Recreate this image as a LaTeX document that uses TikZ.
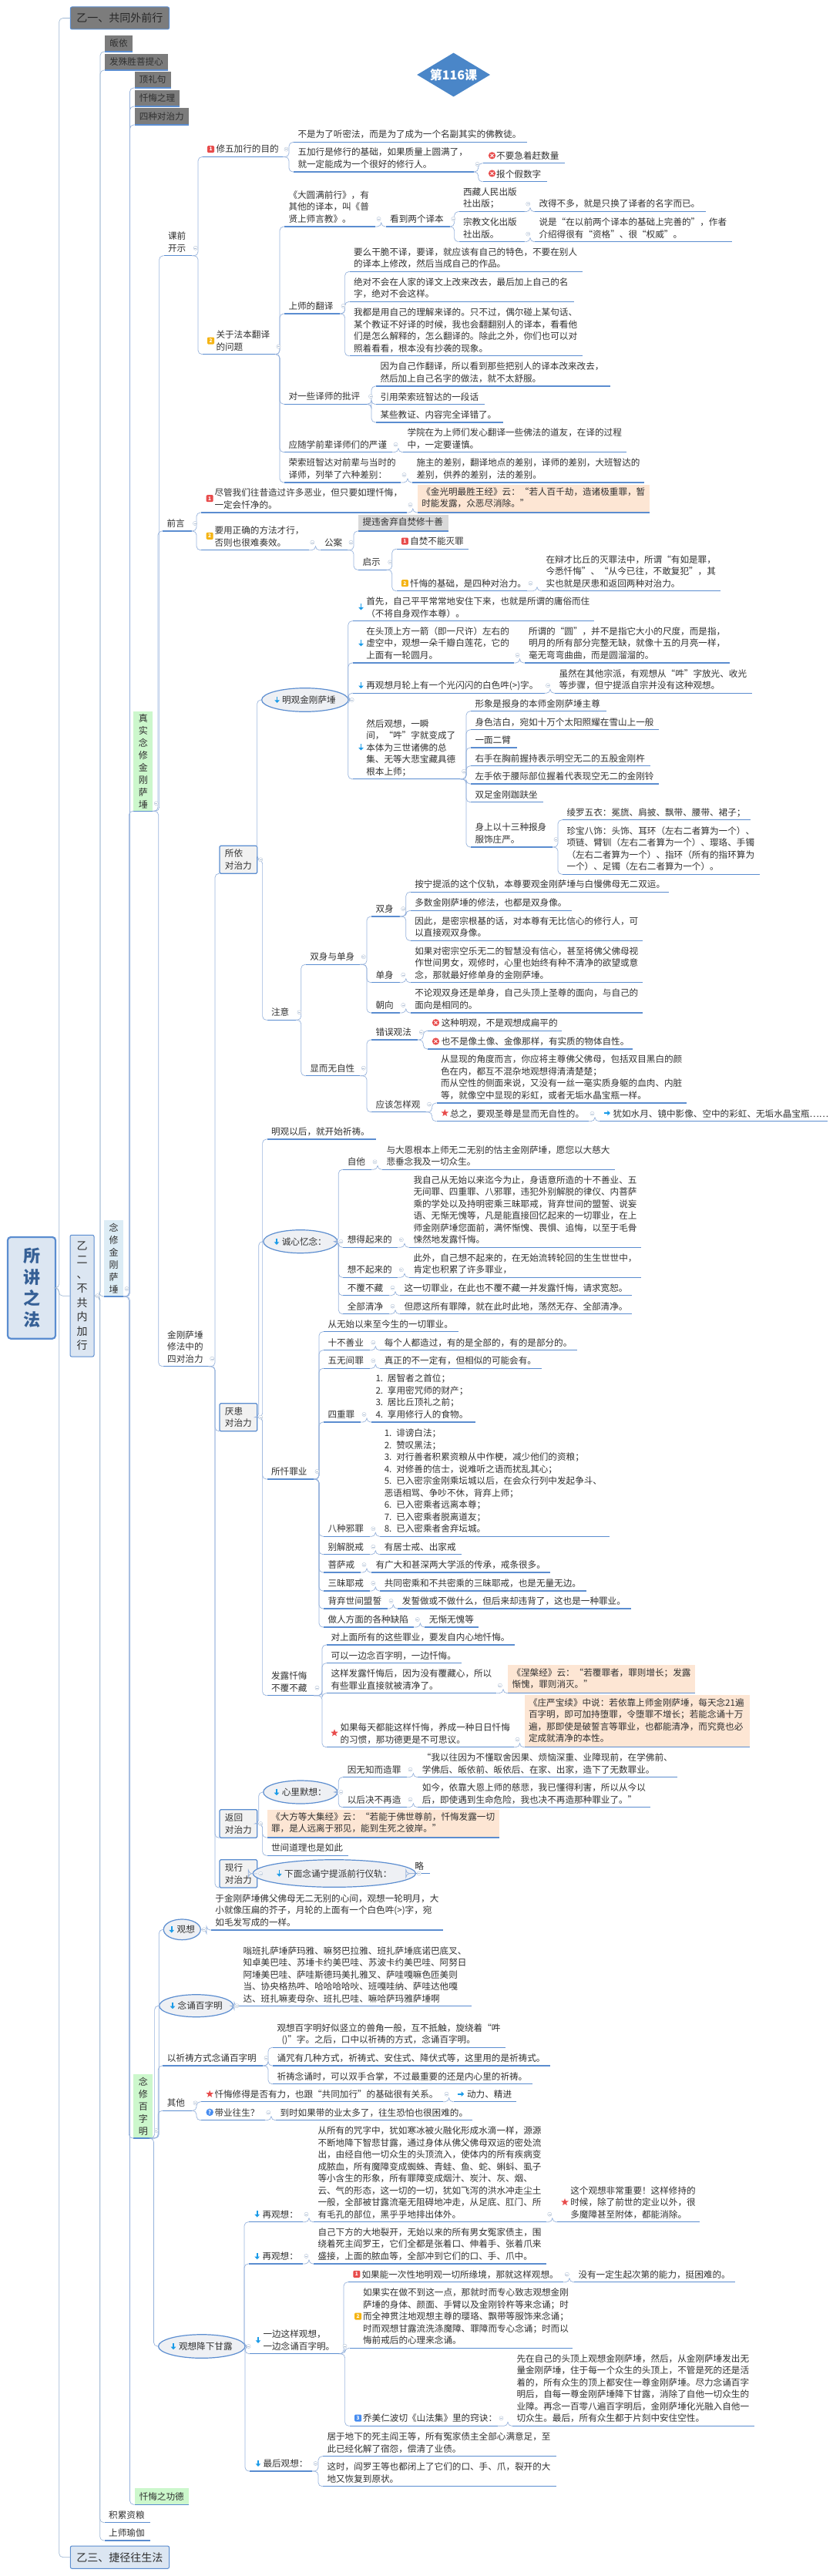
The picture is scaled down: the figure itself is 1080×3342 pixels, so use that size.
\documentclass[tikz,border=0pt]{standalone}
\usepackage{fontspec}
\setmainfont{Noto Sans CJK SC}
\usetikzlibrary{arrows.meta, positioning, shapes.geometric, calc}
\definecolor{mmline}{RGB}{91,141,208}
\definecolor{mmconn}{RGB}{150,178,220}
\definecolor{mmspine}{RGB}{160,184,212}
\definecolor{mmtext}{RGB}{48,48,48}
\definecolor{mmgray}{RGB}{124,124,124}
\definecolor{mmpale}{RGB}{220,230,242}
\definecolor{mmsky}{RGB}{220,236,245}
\definecolor{mmgreen}{RGB}{204,247,204}
\definecolor{mmpeach}{RGB}{253,230,212}
\definecolor{mmsilver}{RGB}{217,217,217}
\definecolor{mmoval}{RGB}{238,240,244}
\definecolor{mmred}{RGB}{232,76,76}
\definecolor{mmyellow}{RGB}{245,180,20}
\definecolor{mmblue}{RGB}{70,140,240}
\definecolor{mmarrow}{RGB}{26,155,232}
\definecolor{mmdiamond}{RGB}{74,134,200}
\definecolor{mmroot}{RGB}{54,96,150}
\newcommand{\bodyfont}{\fontsize{11.6}{15.5}\selectfont}
\tikzset{
  topic/.style={anchor=south west, inner xsep=5.5pt, inner ysep=2.6pt, outer sep=0pt,
    align=left, text=mmtext, font=\bodyfont},
  uline/.style={mmline, line width=1.3pt},
  conn/.style={mmconn, line width=0.7pt, rounded corners=5pt},
  collmark/.style={draw=mmsilver!70!mmline, line width=0.4pt},
  peach/.style={fill=mmpeach},
  silver/.style={fill=mmsilver},
  blockbox/.style={inner sep=0pt, outer sep=0pt, align=left, text=mmtext, font=\bodyfont},
  graybox/.style={blockbox, fill=mmgray},
  titlebox/.style={blockbox, draw=mmline, line width=1pt, rounded corners=2pt,
    font=\fontsize{14}{18.5}\selectfont},
  sidebox/.style={blockbox, fill=mmsilver!35, draw=mmline, line width=1.2pt, rounded corners=1.5pt},
  vbar/.style={blockbox, align=center, font=\fontsize{12}{16}\selectfont},
  oval/.style={ellipse, inner sep=0pt, outer sep=0pt, fill=mmoval, draw=mmline, line width=1.2pt,
    text=mmtext, font=\bodyfont},
  badge/.style={rounded corners=1.2pt, minimum size=9pt, inner sep=0pt, text=white,
    font=\fontsize{6.5}{7}\selectfont\bfseries},
  starmark/.style={star, star points=5, star point ratio=2.4, fill=mmred, inner sep=0pt, minimum size=10pt},
  qmark/.style={circle, fill=mmblue, inner sep=0pt, minimum size=9.5pt, text=white,
    font=\fontsize{7.5}{8}\selectfont\bfseries},
  iconarrow/.style={mmarrow, line width=1.6pt, -{Triangle[length=3.6pt,width=6.4pt]}}
}
\newcommand{\ind}{\hspace*{12pt}}
% underlined topic: name, left, right, line height, text
\newcommand{\topic}[6][]{%
  \pgfmathsetmacro{\tw}{#4-#3-11}%
  \node[topic,text width=\tw pt,#1] (#2) at (#3,#5) {#6\rule[-3pt]{0pt}{8pt}};%
  \draw[uline] (#2.south west) -- (#2.south east);}
% box topic: name, left, right, top, bottom, text
\newcommand{\boxtopic}[7][]{%
  \pgfmathsetmacro{\bcx}{(#3+#4)/2}\pgfmathsetmacro{\bcy}{(#5+#6)/2}%
  \pgfmathsetmacro{\bw}{#4-#3}\pgfmathsetmacro{\bh}{#6-#5}%
  \node[minimum width=\bw pt,minimum height=\bh pt,#1] (#2) at (\bcx,\bcy) {#7};}
\newcommand{\bartopic}[7][]{%
  \boxtopic[#1]{#2}{#3}{#4}{#5}{#6}{#7}%
  \draw[uline] (#2.south west) -- (#2.south east);}
\newcommand{\ovaltopic}[6]{%
  \node[oval,minimum width=#4pt,minimum height=#5pt] (#1) at (#2,#3) {#6};}
% connectors and collapse marks
\newcommand{\coll}[2][10]{%
  \draw[collmark,fill=white] ($(#2)+(4.5pt,#1pt)$) circle (2.6pt);
  \draw[collmark] ($(#2)+(3pt,#1pt)$) -- ++(3pt,0);}
\newcommand{\link}[3][6]{\draw[conn] (#2) -| ($(#3)+(-#1pt,0)$) -- (#3);}
\newcommand{\conn}[2]{\foreach \kid in {#2}{\link{#1.south east}{\kid.south west}}\coll{#1.south east}}
% small icons
\newcommand{\numbadge}[5]{\node[badge,fill=#4] (#1) at (#2,#3) {#5};}
\newcommand{\crossmark}[2]{\fill[mmred] (#1,#2) circle (4.6pt);
  \draw[white,line width=1pt] ($(#1,#2)+(-2pt,-2pt)$) -- ($(#1,#2)+(2pt,2pt)$);
  \draw[white,line width=1pt] ($(#1,#2)+(-2pt,2pt)$) -- ($(#1,#2)+(2pt,-2pt)$);}
\newcommand{\downicon}[2]{\draw[iconarrow] ($(#1,#2)+(0,4.2pt)$) -- ($(#1,#2)+(0,-4.2pt)$);}
\newcommand{\righticon}[2]{\draw[iconarrow] ($(#1,#2)+(-4.2pt,0)$) -- ($(#1,#2)+(4.2pt,0)$);}
\begin{document}
\begin{tikzpicture}[x=1pt,y=-1pt]
\useasboundingbox (0,0) rectangle (1080,3342);

% --- Left columns ---
\boxtopic[blockbox,draw=mmline,fill=mmpale,line width=2.2pt,rounded corners=4pt,align=center,text=mmroot,
  font=\fontsize{22}{27.5}\selectfont\bfseries]{root}{10}{72}{1605}{1736.7}{所\\讲\\之\\法}
\boxtopic[titlebox,fill=mmgray,text=mmtext!80!black]{yi-one}{91.4}{219.5}{9}{38}{乙一、共同外前行}
\boxtopic[titlebox,fill=mmpale,align=center]{yi-two}{91}{122}{1602.3}{1760}{乙\\二\\、\\不\\共\\内\\加\\行}
\boxtopic[titlebox,fill=mmpale]{yi-three}{91.4}{219.5}{3303}{3332.3}{乙三、捷径往生法}
\bartopic[graybox]{refuge}{136}{172}{46}{67}{皈依}
\bartopic[graybox]{bodhi}{136}{218}{70}{91}{发殊胜菩提心}
\bartopic[vbar,fill=mmsky]{vajra}{135}{160}{1582.7}{1682}{念\\修\\金\\刚\\萨\\埵}
\topic{merit}{135.7}{195.3}{3272.7}{积累资粮}
\topic{guru}{135.7}{195.3}{3296}{上师瑜伽}
\bartopic[graybox]{homage}{174.5}{221.6}{93}{114}{顶礼句}
\bartopic[graybox]{reason}{174.5}{233.4}{117}{138}{忏悔之理}
\bartopic[graybox]{fourpow}{174.5}{245}{140}{162}{四种对治力}
\bartopic[vbar,fill=mmgreen]{real}{173.3}{198.3}{922.7}{1052.3}{真\\实\\念\\修\\金\\刚\\萨\\埵}
\bartopic[vbar,fill=mmgreen]{hundred}{173.3}{198.3}{2690.7}{2774}{念\\修\\百\\字\\明}
\bartopic[blockbox,fill=mmgreen]{virtue}{174.5}{245}{3228}{3249.3}{忏悔之功德}
\node[diamond,aspect=1.67,fill=mmdiamond,inner sep=0pt,minimum width=95pt,minimum height=57pt,text=white,
  font=\fontsize{16}{18}\selectfont\bfseries] (lesson) at (588.6,97) {第116课};

% --- Before the talk ---
\topic{talk}{212.6}{249.3}{331.8}{课前\\开示}
\topic{goal}{263}{367}{203.6}{\ind 修五加行的目的}
\numbadge{goal-n}{273.5}{193.6}{mmred}{1}
\topic{goal-a}{381}{683.5}{184.6}{不是为了听密法，而是为了成为一个名副其实的佛教徒。}
\topic{goal-b}{381}{615}{223}{五加行是修行的基础，如果质量上圆满了，\\就一定能成为一个很好的修行人。}
\topic{goal-c}{626.7}{732.7}{211.8}{\ind 不要急着赶数量}
\topic{goal-d}{626.7}{710}{235.7}{\ind 报个假数字}
\crossmark{638.5}{201.8}
\crossmark{638.5}{225}
\topic{trans}{263}{357}{459.6}{\ind 关于法本翻译\\\ind 的问题}
\numbadge{trans-n}{273.5}{442}{mmyellow}{2}
\topic{tr-a}{369}{487}{294}{《大圆满前行》，有\\其他的译本，叫《普\\贤上师言教》。}
\topic{tr-b}{500.7}{583.8}{294}{看到两个译本}
\topic{tr-c}{595.6}{680.7}{274.6}{西藏人民出版\\社出版；}
\topic{tr-d}{694}{915.5}{274.6}{改得不多，就是只换了译者的名字而已。}
\topic{tr-e}{595.6}{680.7}{313.6}{宗教文化出版\\社出版。}
\topic{tr-f}{694}{950}{313.6}{说是“在以前两个译本的基础上完善的”，作者\\介绍得很有“资格”、很“权威”。}
\topic{tr-g}{369}{441}{407}{上师的翻译}
\topic{tr-h}{453.6}{756}{352.5}{要么干脆不译，要译，就应该有自己的特色，不要在别人\\的译本上修改，然后当成自己的作品。}
\topic{tr-i}{453.6}{745}{391.4}{绝对不会在人家的译文上改来改去，最后加上自己的名\\字，绝对不会这样。}
\topic{tr-j}{453.6}{756}{461.8}{我都是用自己的理解来译的。只不过，偶尔碰上某句话、\\某个教证不好译的时候，我也会翻翻别人的译本，看看他\\们是怎么解释的，怎么翻译的。除此之外，你们也可以对\\照着看看，根本没有抄袭的现象。}
\topic{tr-k}{369}{476.5}{524.3}{对一些译师的批评}
\topic{tr-l}{488}{791.5}{501}{因为自己作翻译，所以看到那些把别人的译本改来改去，\\然后加上自己名字的做法，就不太舒服。}
\topic{tr-m}{488}{629}{524.6}{引用荣索班智达的一段话}
\topic{tr-n}{488}{653}{547.9}{某些教证、内容完全译错了。}
\topic{tr-o}{369}{509}{586.7}{应随学前辈译师们的严谨}
\topic{tr-p}{523}{813}{586.7}{学院在为上师们发心翻译一些佛法的道友，在译的过程\\中，一定要谨慎。}
\topic{tr-q}{369}{520}{626}{荣索班智达对前辈与当时的\\译师，列举了六种差别：}
\topic{tr-r}{535}{836}{626}{施主的差别，翻译地点的差别，译师的差别，大班智达的\\差别，供养的差别，法的差别。}

% --- Foreword ---
\topic{fore}{211}{248.5}{689}{前言}
\topic{fore-a}{261}{528}{665}{\ind 尽管我们往昔造过许多恶业，但只要如理忏悔，\\\ind 一定会忏净的。}
\numbadge{fore-a-n}{272.2}{646.7}{mmred}{1}
\topic[peach,minimum height=36.5pt]{fore-b}{541.8}{843}{665}{《金光明最胜王经》云：“若人百千劫，造诸极重罪，暂\\时能发露，众恶尽消除。”}
\topic{fore-c}{261}{400.8}{713.7}{\ind 要用正确的方法才行，\\\ind 否则也很难奏效。}
\numbadge{fore-c-n}{272.2}{695.3}{mmyellow}{2}
\topic{fore-d}{415.5}{451}{713.7}{公案}
\topic[silver,minimum height=21.3pt]{fore-e}{465}{582.4}{689}{提违舍弃自焚修十善}
\topic{fore-f}{465}{501.7}{739.3}{启示}
\topic{fore-g}{514.7}{607.8}{712.3}{\ind 自焚不能灭罪}
\numbadge{fore-g-n}{525.4}{702}{mmred}{1}
\topic{fore-h}{514.7}{684}{766.7}{\ind 忏悔的基础，是四种对治力。}
\numbadge{fore-h-n}{525.4}{756.7}{mmyellow}{2}
\topic{fore-i}{703}{935}{766.7}{在辩才比丘的灭罪法中，所谓“有如是罪，\\今悉忏悔”、“从今已往，不敢复犯”，其\\实也就是厌患和返回两种对治力。}

% --- Four powers ---
\topic{powers}{211.7}{270.7}{1772.7}{金刚萨埵\\修法中的\\四对治力}
\boxtopic[sidebox]{rely}{285}{333.7}{1097.3}{1133.3}{所依\\对治力}
\boxtopic[sidebox]{regret}{285}{333.7}{1820.7}{1856.7}{厌患\\对治力}
\boxtopic[sidebox]{turn}{285}{333.7}{2347.7}{2384.3}{返回\\对治力}
\boxtopic[sidebox]{act}{285}{333.7}{2412.7}{2449}{现行\\对治力}

% --- Relying power ---
\ovaltopic{clear}{395.9}{908}{96.2}{30.6}{\hspace*{10pt}明观金刚萨埵}
\downicon{359.6}{907.7}
\topic{cl-a}{457.8}{770.8}{805.7}{\ind 首先，自己平平常常地安住下来，也就是所谓的庸俗而住\\\ind （不将自身观作本尊）。}
\downicon{468.5}{787.3}
\topic{cl-b}{457.8}{667}{860}{\ind 在头顶上方一箭（即一尺许）左右的\\\ind 虚空中，观想一朵千瓣白莲花，它的\\\ind 上面有一轮圆月。}
\downicon{468.5}{834.3}
\topic{cl-c}{680.5}{947}{860}{所谓的“圆”，并不是指它大小的尺度，而是指，\\明月的所有部分完整无缺，就像十五的月亮一样，\\毫无弯弯曲曲，而是圆溜溜的。}
\topic{cl-d}{457.8}{706.5}{899.3}{\ind 再观想月轮上有一个光闪闪的白色吽(>)字。}
\downicon{468.5}{889}
\topic{cl-e}{720}{976}{899.3}{虽然在其他宗派，有观想从“吽”字放光、收光\\等步骤，但宁提派自宗并没有这种观想。}
\topic{cl-f}{457.8}{597.6}{1010.7}{\ind 然后观想，一瞬\\\ind 间，“吽”字就变成了\\\ind 本体为三世诸佛的总\\\ind 集、无等大悲宝藏具德\\\ind 根本上师；}
\downicon{468.5}{969.3}
\topic{cl-g}{611}{786.6}{922.7}{形象是报身的本师金刚萨埵主尊}
\topic{cl-h}{611}{855}{946.7}{身色洁白，宛如十万个太阳照耀在雪山上一般}
\topic{cl-i}{611}{671}{970}{一面二臂}
\topic{cl-j}{611}{844}{993.7}{右手在胸前握持表示明空无二的五股金刚杵}
\topic{cl-k}{611}{855}{1017}{左手依于腰际部位握着代表现空无二的金刚铃}
\topic{cl-l}{611}{705}{1040.7}{双足金刚跏趺坐}
\topic{cl-m}{611}{717}{1099}{身上以十三种报身\\服饰庄严。}
\topic{cl-n}{730}{974.4}{1063.7}{绫罗五衣：冕旒、肩披、飘带、腰带、裙子；}
\topic{cl-o}{730}{985.7}{1134.3}{珍宝八饰：头饰、耳环（左右二者算为一个）、\\项链、臂钏（左右二者算为一个）、璎珞、手镯\\（左右二者算为一个）、指环（所有的指环算为\\一个）、足镯（左右二者算为一个）。}
\topic{note}{346.6}{384}{1323.3}{注意}
\topic{note-a}{396.8}{467.3}{1251.3}{双身与单身}
\topic{note-b}{482}{518.7}{1189}{双身}
\topic{note-c}{532.8}{868.4}{1157.3}{按宁提派的这个仪轨，本尊要观金刚萨埵与白慢佛母无二双运。}
\topic{note-d}{532.8}{741.5}{1181.3}{多数金刚萨埵的修法，也都是双身像。}
\topic{note-e}{532.8}{834}{1220.3}{因此，是密宗根基的话，对本尊有无比信心的修行人，可\\以直接观双身像。}
\topic{note-f}{482}{518.7}{1274.7}{单身}
\topic{note-g}{532.8}{834}{1274.7}{如果对密宗空乐无二的智慧没有信心，甚至将佛父佛母视\\作世间男女，观修时，心里也始终有种不清净的欲望或意\\念，那就最好修单身的金刚萨埵。}
\topic{note-h}{482}{518.7}{1314}{朝向}
\topic{note-i}{532.8}{834}{1314}{不论观双身还是单身，自己头顶上圣尊的面向，与自己的\\面向是相同的。}
\topic{note-j}{396.8}{467.3}{1395.7}{显而无自性}
\topic{note-k}{482}{542.4}{1349}{错误观法}
\topic{note-l}{555.3}{729}{1337.3}{\ind 这种明观，不是观想成扁平的}
\crossmark{565.5}{1326.7}
\topic{note-m}{555.3}{821}{1361}{\ind 也不是像土像、金像那样，有实质的物体自性。}
\crossmark{565.5}{1351}
\topic{note-n}{482}{552.5}{1442.7}{应该怎样观}
\topic{note-o}{566.6}{891.4}{1431}{从显现的角度而言，你应将主尊佛父佛母，包括双目黑白的颜\\色在内，都互不混杂地观想得清清楚楚；\\而从空性的侧面来说，又没有一丝一毫实质身躯的血肉、内脏\\等，就像空中显现的彩虹，或者无垢水晶宝瓶一样。}
\topic{note-p}{566.6}{764}{1454.7}{\ind 总之，要观圣尊是显而无自性的。}
\node[starmark] (note-p-s) at (577.3,1444) {};
\topic{note-q}{778}{1074}{1454.7}{\ind 犹如水月、镜中影像、空中的彩虹、无垢水晶宝瓶……}
\righticon{787.7}{1444}

% --- Regret power ---
\topic{pray}{346.6}{487.6}{1478}{明观以后，就开始祈祷。}
\ovaltopic{recall}{389.8}{1610.7}{84}{30}{\hspace*{10pt}诚心忆念：}
\downicon{359}{1610.7}
\topic{re-a}{445.3}{482}{1517.3}{自他}
\topic{re-b}{496}{798}{1517.3}{与大恩根本上师无二无别的怙主金刚萨埵，愿您以大慈大\\悲垂念我及一切众生。}
\topic{re-c}{445.3}{516.4}{1618.3}{想得起来的}
\topic{re-d}{531}{832}{1618.3}{我自己从无始以来迄今为止，身语意所造的十不善业、五\\无间罪、四重罪、八邪罪，违犯外别解脱的律仪、内菩萨\\乘的学处以及持明密乘三昧耶戒，背弃世间的盟誓、说妄\\语、无惭无愧等，凡是能直接回忆起来的一切罪业，在上\\师金刚萨埵您面前，满怀惭愧、畏惧、追悔，以至于毛骨\\悚然地发露忏悔。}
\topic{re-e}{445.3}{516.4}{1657.3}{想不起来的}
\topic{re-f}{531}{832}{1657.3}{此外，自己想不起来的，在无始流转轮回的生生世世中，\\肯定也积累了许多罪业，}
\topic{re-g}{445.3}{505}{1680.7}{不覆不藏}
\topic{re-h}{519}{820.4}{1680.7}{这一切罪业，在此也不覆不藏一并发露忏悔，请求宽恕。}
\topic{re-i}{445.3}{505}{1704.7}{全部清净}
\topic{re-j}{519}{820.4}{1704.7}{但愿这所有罪障，就在此时此地，荡然无存、全部清净。}
\topic{sin}{346.6}{407}{1919}{所忏罪业}
\topic{sin-a}{420}{594.8}{1727.7}{从无始以来至今生的一切罪业。}
\topic{sin-b}{420}{479.8}{1751.7}{十不善业}
\topic{sin-c}{493.3}{748.8}{1751.7}{每个人都造过，有的是全部的，有的是部分的。}
\topic{sin-d}{420}{479.8}{1775.3}{五无间罪}
\topic{sin-e}{493.3}{703}{1775.3}{真正的不一定有，但相似的可能会有。}
\topic{sin-f}{420}{468}{1845}{四重罪}
\topic{sin-g}{482}{617.4}{1845}{1. 居智者之首位；\\2. 享用密咒师的财产；\\3. 居比丘顶礼之前；\\4. 享用修行人的食物。}
\topic{sin-h}{420}{479.8}{1993.3}{八种邪罪}
\topic{sin-i}{493.3}{791}{1993.3}{1. 诽谤白法；\\2. 赞叹黑法；\\3. 对行善者积累资粮从中作梗，减少他们的资粮；\\4. 对修善的信士，说难听之语而扰乱其心；\\5. 已入密宗金刚乘坛城以后，在会众行列中发起争斗、\\恶语相骂、争吵不休，背弃上师；\\6. 已入密乘者远离本尊；\\7. 已入密乘者脱离道友；\\8. 已入密乘者舍弃坛城。}
\topic{sin-j}{420}{479.8}{2016.7}{别解脱戒}
\topic{sin-k}{493.3}{599.3}{2016.7}{有居士戒、出家戒}
\topic{sin-l}{420}{468}{2040}{菩萨戒}
\topic{sin-m}{482}{714.4}{2040}{有广大和甚深两大学派的传承，戒条很多。}
\topic{sin-n}{420}{479.8}{2064}{三昧耶戒}
\topic{sin-o}{493.3}{760.6}{2064}{共同密乘和不共密乘的三昧耶戒，也是无量无边。}
\topic{sin-p}{420}{503}{2087}{背弃世间盟誓}
\topic{sin-q}{516.4}{818.7}{2087}{发誓做或不做什么，但后来却违背了，这也是一种罪业。}
\topic{sin-r}{420}{537.3}{2111}{做人方面的各种缺陷}
\topic{sin-s}{551.4}{621.3}{2111}{无惭无愧等}
\topic{show}{346.6}{407}{2199.7}{发露忏悔\\不覆不藏}
\topic{show-a}{424}{667.6}{2134}{对上面所有的这些罪业，要发自内心地忏悔。}
\topic{show-b}{424}{598.8}{2157.7}{可以一边念百字明，一边忏悔。}
\topic{show-c}{424}{644.4}{2196.7}{这样发露忏悔后，因为没有覆藏心，所以\\有些罪业直接就被清净了。}
\topic[peach,minimum height=36.7pt]{show-d}{659}{902}{2196.7}{《涅槃经》云：“若覆罪者，罪则增长；发露\\惭愧，罪则消灭。”}
\topic{show-e}{424}{667}{2266.7}{\ind 如果每天都能这样忏悔，养成一种日日忏悔\\\ind 的习惯，那功德更是不可思议。}
\node[starmark] (show-e-s) at (434,2248.3) {};
\topic[peach,minimum height=67.7pt]{show-f}{680.5}{972.7}{2266.7}{《庄严宝续》中说：若依靠上师金刚萨埵，每天念21遍\\百字明，即可加持堕罪，令堕罪不增长；若能念诵十万\\遍，那即使是破誓言等罪业，也都能清净，而究竟也必\\定成就清净的本性。}

% --- Turning and acting powers ---
\ovaltopic{think}{389.8}{2325}{84}{30}{\hspace*{10pt}心里默想：}
\downicon{359}{2325}
\topic{th-a}{445.3}{528}{2305.7}{因无知而造罪}
\topic{th-b}{542.4}{878.5}{2305.7}{“我以往因为不懂取舍因果、烦恼深重、业障现前，在学佛前、\\学佛后、皈依前、皈依后、在家、出家，造下了无数罪业。}
\topic{th-c}{445.3}{528}{2344.7}{以后决不再造}
\topic{th-d}{542.4}{843.5}{2344.7}{如今，依靠大恩上师的慈悲，我已懂得利害，所以从今以\\后，即使遇到生命危险，我也决不再造那种罪业了。”}
\topic[peach,minimum height=36.5pt]{th-e}{346.6}{648.4}{2384}{《大方等大集经》云：“若能于佛世尊前，忏悔发露一切\\罪，是人远离于邪见，能到生死之彼岸。”}
\topic{th-f}{346.6}{452}{2407.3}{世间道理也是如此}
\ovaltopic{recite}{433.8}{2430.5}{172}{35.6}{\hspace*{10pt}下面念诵宁提派前行仪轨：}
\downicon{362.4}{2430.3}
\topic{omit}{532.8}{558}{2430.7}{略}

% --- Hundred syllables ---
\ovaltopic{visual}{236.3}{2503.3}{48}{26.7}{\hspace*{10pt}观想}
\downicon{222.7}{2503.3}
\topic{vi-a}{273.9}{575}{2504}{于金刚萨埵佛父佛母无二无别的心间，观想一轮明月，大\\小就像压扁的芥子，月轮的上面有一个白色吽(>)字，宛\\如毛发写成的一样。}
\ovaltopic{mantra}{254.7}{2602.2}{84.6}{29}{\hspace*{10pt}念诵百字明}
\downicon{224}{2602}
\topic{ma-a}{310}{611.7}{2602.7}{嗡班扎萨埵萨玛雅、嘛努巴拉雅、班扎萨埵底诺巴底叉、\\知卓美巴哇、苏埵卡约美巴哇、苏波卡约美巴哇、阿努日\\阿埵美巴哇、萨哇斯德玛美扎雅叉、萨哇嘎嘛色匝美则\\当、协央格热吽、哈哈哈哈吙、班嘎哇纳、萨哇达他嘎\\达、班扎嘛麦母杂、班扎巴哇、嘛哈萨玛雅萨埵啊}
\topic{way}{211.3}{341}{2680}{以祈祷方式念诵百字明}
\topic{way-a}{354}{656.3}{2656.3}{观想百字明好似竖立的兽角一般，互不抵触，旋绕着“吽\\\hspace*{6pt}()”字。之后，口中以祈祷的方式，念诵百字明。}
\topic{way-b}{354}{714.4}{2680}{诵咒有几种方式，祈祷式、安住式、降伏式等，这里用的是祈祷式。}
\topic{way-c}{354}{691.3}{2703.7}{祈祷念诵时，可以双手合掌，不过最重要的还是内心里的祈祷。}
\topic{other}{211.3}{249}{2738.3}{其他}
\topic{ot-a}{261}{575}{2726.7}{\ind 忏悔修得是否有力，也跟“共同加行”的基础很有关系。}
\node[starmark] (ot-a-s) at (272.2,2716.7) {};
\topic{ot-b}{588.6}{669.8}{2726.7}{\ind 动力、精进}
\righticon{598}{2716.7}
\topic{ot-c}{261}{343.8}{2750.7}{\ind 带业往生？}
\node[qmark] (ot-c-q) at (272.2,2740.3) {?};
\topic{ot-d}{358}{612.9}{2750.7}{到时如果带的业太多了，往生恐怕也很困难的。}
\ovaltopic{nectar}{261.8}{3044}{98.4}{30.6}{\hspace*{10pt}观想降下甘露}
\downicon{225}{3044}
\topic{ne-a}{323}{393}{2882.7}{\ind 再观想：}
\downicon{333.7}{2872.3}
\topic{ne-b}{407}{708.7}{2882.7}{从所有的咒字中，犹如寒冰被火融化形成水滴一样，源源\\不断地降下智悲甘露，通过身体从佛父佛母双运的密处流\\出，由经自他一切众生的头顶流入，使体内的所有疾病变\\成脓血，所有魔障变成蜘蛛、青蛙、鱼、蛇、蝌蚪、虱子\\等小含生的形象，所有罪障变成烟汁、炭汁、灰、烟、\\云、气的形态，这一切的一切，犹如飞泻的洪水冲走尘土\\一般，全部被甘露流毫无阻碍地冲走，从足底、肛门、所\\有毛孔的部位，黑乎乎地排出体外。}
\topic{ne-c}{722.8}{907.8}{2882.7}{\ind 这个观想非常重要！这样修持的\\\ind 时候，除了前世的定业以外，很\\\ind 多魔障甚至附体，都能消除。}
\node[starmark] (ne-c-s) at (733,2857) {};
\topic{ne-d}{323}{393}{2937}{\ind 再观想：}
\downicon{333.7}{2927}
\topic{ne-e}{407}{708.7}{2937}{自己下方的大地裂开，无始以来的所有男女冤家债主，围\\绕着死主阎罗王，它们全都是张着口、伸着手、张着爪来\\盛接，上面的脓血等，全部冲到它们的口、手、爪中。}
\topic{ne-f}{324}{443}{3053.7}{\ind 一边这样观想，\\\ind 一边念诵百字明。}
\downicon{335}{3035.7}
\topic{ne-g}{452}{731.3}{2960.7}{\ind 如果能一次性地明观一切所缘境，那就这样观想。}
\numbadge{ne-g-n}{462.8}{2950.3}{mmred}{1}
\topic{ne-h}{745}{954}{2960.7}{没有一定生起次第的能力，挺困难的。}
\topic{ne-i}{453.6}{743}{3046.3}{\ind 如果实在做不到这一点，那就时而专心致志观想金刚\\\ind 萨埵的身体、颜面、手臂以及金刚铃杵等来念诵；时\\\ind 而全神贯注地观想主尊的璎珞、飘带等服饰来念诵；\\\ind 时而观想甘露流洗涤魔障、罪障而专心念诵；时而以\\\ind 悔前戒后的心理来念诵。}
\numbadge{ne-i-n}{464.7}{3005}{mmyellow}{2}
\topic{ne-j}{453.6}{646}{3147.3}{\ind 乔美仁波切《山法集》里的窍诀：}
\numbadge{ne-j-n}{464.7}{3137}{mmblue}{3}
\topic{ne-k}{665}{978.5}{3147.3}{先在自己的头顶上观想金刚萨埵，然后，从金刚萨埵发出无\\量金刚萨埵，住于每一个众生的头顶上，不管是死的还是活\\着的，所有众生的顶上都安住一尊金刚萨埵。尽力念诵百字\\明后，自每一尊金刚萨埵降下甘露，消除了自他一切众生的\\业障。再念一百零八遍百字明后，金刚萨埵化光融入自他一\\切众生。最后，所有众生都于片刻中安住空性。}
\topic{ne-l}{324}{405}{3206}{\ind 最后观想：}
\downicon{335}{3195.7}
\topic{ne-m}{419}{721.6}{3186.7}{居于地下的死主阎王等，所有冤家债主全部心满意足，至\\此已经化解了宿怨，偿清了业债。}
\topic{ne-n}{419}{721.6}{3225.7}{这时，阎罗王等也都闭上了它们的口、手、爪，裂开的大\\地又恢复到原状。}

% --- Connectors: left columns ---
\begin{scope}[conn/.append style={mmspine}]
\link[14.7]{root.east}{yi-one.west}
\link[14.7]{root.east}{yi-two.west}
\link[14.7]{root.east}{yi-three.west}
\foreach \kid in {refuge,bodhi,vajra,merit,guru}{\link{yi-two.east}{\kid.south west}}
\coll[0]{yi-two.east}
\end{scope}
\conn{vajra}{homage,reason,fourpow,real,hundred,virtue}
\conn{real}{talk,fore,powers}
\foreach \kid in {way,other}{\link{hundred.south east}{\kid.south west}}
\foreach \kid in {visual,mantra,nectar}{\link{hundred.south east}{\kid.west}}
\coll{hundred.south east}

% --- Connectors: before the talk ---
\conn{talk}{goal,trans}
\conn{goal}{goal-a,goal-b}
\conn{goal-b}{goal-c,goal-d}
\conn{trans}{tr-a,tr-g,tr-k,tr-o,tr-q}
\conn{tr-a}{tr-b}
\conn{tr-b}{tr-c,tr-e}
\conn{tr-c}{tr-d}
\conn{tr-e}{tr-f}
\conn{tr-g}{tr-h,tr-i,tr-j}
\conn{tr-k}{tr-l,tr-m,tr-n}
\conn{tr-o}{tr-p}
\conn{tr-q}{tr-r}

% --- Connectors: foreword ---
\conn{fore}{fore-a,fore-c}
\conn{fore-a}{fore-b}
\conn{fore-c}{fore-d}
\conn{fore-d}{fore-e,fore-f}
\conn{fore-f}{fore-g,fore-h}
\conn{fore-h}{fore-i}

% --- Connectors: four powers ---
\conn{powers}{rely,regret,turn,act}
\link{rely.east}{clear.west}
\link{rely.east}{note.south west}
\coll[0]{rely.east}
\foreach \kid in {cl-a,cl-b,cl-d,cl-f}{\link{clear.east}{\kid.south west}}
\coll[0]{clear.east}
\conn{cl-b}{cl-c}
\conn{cl-d}{cl-e}
\conn{cl-f}{cl-g,cl-h,cl-i,cl-j,cl-k,cl-l,cl-m}
\conn{cl-m}{cl-n,cl-o}
\conn{note}{note-a,note-j}
\conn{note-a}{note-b,note-f,note-h}
\conn{note-b}{note-c,note-d,note-e}
\conn{note-f}{note-g}
\conn{note-h}{note-i}
\conn{note-j}{note-k,note-n}
\conn{note-k}{note-l,note-m}
\conn{note-n}{note-o,note-p}
\conn{note-p}{note-q}
\link{regret.east}{pray.south west}
\link{regret.east}{recall.west}
\link{regret.east}{sin.south west}
\link{regret.east}{show.south west}
\coll[0]{regret.east}
\foreach \kid in {re-a,re-c,re-e,re-g,re-i}{\link{recall.east}{\kid.south west}}
\coll[0]{recall.east}
\conn{re-a}{re-b}
\conn{re-c}{re-d}
\conn{re-e}{re-f}
\conn{re-g}{re-h}
\conn{re-i}{re-j}
\conn{sin}{sin-a,sin-b,sin-d,sin-f,sin-h,sin-j,sin-l,sin-n,sin-p,sin-r}
\conn{sin-b}{sin-c}
\conn{sin-d}{sin-e}
\conn{sin-f}{sin-g}
\conn{sin-h}{sin-i}
\conn{sin-j}{sin-k}
\conn{sin-l}{sin-m}
\conn{sin-n}{sin-o}
\conn{sin-p}{sin-q}
\conn{sin-r}{sin-s}
\conn{show}{show-a,show-b,show-c,show-e}
\conn{show-c}{show-d}
\conn{show-e}{show-f}
\link{turn.east}{think.west}
\link{turn.east}{th-e.south west}
\link{turn.east}{th-f.south west}
\coll[0]{turn.east}
\foreach \kid in {th-a,th-c}{\link{think.east}{\kid.south west}}
\coll[0]{think.east}
\conn{th-a}{th-b}
\conn{th-c}{th-d}
\link{act.east}{recite.west}
\coll[0]{act.east}
\link{recite.east}{omit.south west}
\coll[0]{recite.east}

% --- Connectors: hundred syllables ---
\link{visual.east}{vi-a.south west}
\coll[0]{visual.east}
\link{mantra.east}{ma-a.south west}
\coll[0]{mantra.east}
\conn{way}{way-a,way-b,way-c}
\conn{other}{ot-a,ot-c}
\conn{ot-a}{ot-b}
\conn{ot-c}{ot-d}
\foreach \kid in {ne-a,ne-d,ne-f,ne-l}{\link{nectar.east}{\kid.south west}}
\coll[0]{nectar.east}
\conn{ne-a}{ne-b}
\conn{ne-b}{ne-c}
\conn{ne-d}{ne-e}
\conn{ne-f}{ne-g,ne-i,ne-j}
\conn{ne-g}{ne-h}
\conn{ne-j}{ne-k}
\conn{ne-l}{ne-m,ne-n}

\end{tikzpicture}
\end{document}
